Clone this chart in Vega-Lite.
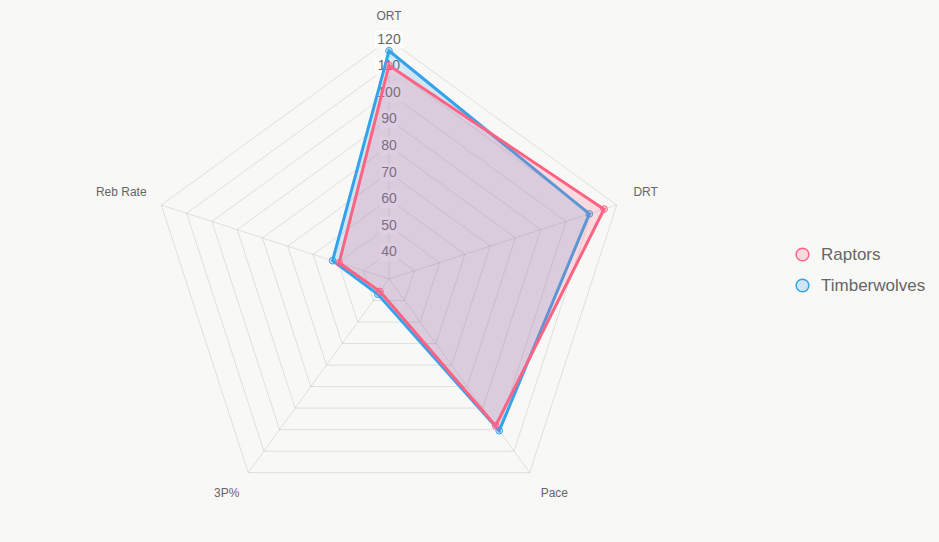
{
  "$schema": "https://vega.github.io/schema/vega-lite/v6.json",
  "width": 939,
  "height": 542,
  "autosize": {"type": "none"},
  "padding": 0,
  "background": "#f8f8f6",
  "config": {
    "view": {"stroke": null},
    "font": "Liberation Sans",
    "legend": {
      "orient": "none",
      "legendX": 794,
      "legendY": 246,
      "title": null,
      "symbolType": "circle",
      "symbolSize": 160,
      "symbolStrokeWidth": 1.5,
      "labelFont": "Liberation Sans",
      "labelFontSize": 17,
      "labelColor": "#666666",
      "labelOffset": 10,
      "rowPadding": 12
    }
  },
  "datasets": {
    "stats": [
      {"team": "Raptors", "axis": "ORT", "idx": 0, "value": 110.3},
      {"team": "Raptors", "axis": "DRT", "idx": 1, "value": 115.0},
      {"team": "Raptors", "axis": "Pace", "idx": 2, "value": 98.2},
      {"team": "Raptors", "axis": "3P%", "idx": 3, "value": 35.8},
      {"team": "Raptors", "axis": "Reb Rate", "idx": 4, "value": 49.7},
      {"team": "Timberwolves", "axis": "ORT", "idx": 0, "value": 115.8},
      {"team": "Timberwolves", "axis": "DRT", "idx": 1, "value": 109.2},
      {"team": "Timberwolves", "axis": "Pace", "idx": 2, "value": 100.5},
      {"team": "Timberwolves", "axis": "3P%", "idx": 3, "value": 37.1},
      {"team": "Timberwolves", "axis": "Reb Rate", "idx": 4, "value": 52.3}
    ],
    "axes": [
      {"axis": "ORT", "idx": 0},
      {"axis": "DRT", "idx": 1},
      {"axis": "Pace", "idx": 2},
      {"axis": "3P%", "idx": 3},
      {"axis": "Reb Rate", "idx": 4}
    ],
    "ticks": [
      {"tick": 40}, {"tick": 50}, {"tick": 60}, {"tick": 70}, {"tick": 80},
      {"tick": 90}, {"tick": 100}, {"tick": 110}, {"tick": 120}
    ],
    "grid": [
      {"ring": 40, "idx": 0}, {"ring": 40, "idx": 1}, {"ring": 40, "idx": 2}, {"ring": 40, "idx": 3}, {"ring": 40, "idx": 4},
      {"ring": 50, "idx": 0}, {"ring": 50, "idx": 1}, {"ring": 50, "idx": 2}, {"ring": 50, "idx": 3}, {"ring": 50, "idx": 4},
      {"ring": 60, "idx": 0}, {"ring": 60, "idx": 1}, {"ring": 60, "idx": 2}, {"ring": 60, "idx": 3}, {"ring": 60, "idx": 4},
      {"ring": 70, "idx": 0}, {"ring": 70, "idx": 1}, {"ring": 70, "idx": 2}, {"ring": 70, "idx": 3}, {"ring": 70, "idx": 4},
      {"ring": 80, "idx": 0}, {"ring": 80, "idx": 1}, {"ring": 80, "idx": 2}, {"ring": 80, "idx": 3}, {"ring": 80, "idx": 4},
      {"ring": 90, "idx": 0}, {"ring": 90, "idx": 1}, {"ring": 90, "idx": 2}, {"ring": 90, "idx": 3}, {"ring": 90, "idx": 4},
      {"ring": 100, "idx": 0}, {"ring": 100, "idx": 1}, {"ring": 100, "idx": 2}, {"ring": 100, "idx": 3}, {"ring": 100, "idx": 4},
      {"ring": 110, "idx": 0}, {"ring": 110, "idx": 1}, {"ring": 110, "idx": 2}, {"ring": 110, "idx": 3}, {"ring": 110, "idx": 4},
      {"ring": 120, "idx": 0}, {"ring": 120, "idx": 1}, {"ring": 120, "idx": 2}, {"ring": 120, "idx": 3}, {"ring": 120, "idx": 4}
    ]
  },
  "layer": [
    {
      "data": {"name": "grid"},
      "transform": [
        {"calculate": "(datum.ring - 30) * sin(datum.idx * 2 * PI / 5)", "as": "px"},
        {"calculate": "(datum.ring - 30) * cos(datum.idx * 2 * PI / 5)", "as": "py"}
      ],
      "mark": {"type": "line", "interpolate": "linear-closed", "stroke": "rgba(0,0,0,0.1)", "strokeWidth": 1},
      "encoding": {
        "x": {"field": "px", "type": "quantitative", "axis": null, "scale": {"domain": [-146.24, 206.77], "nice": false, "zero": false}},
        "y": {"field": "py", "type": "quantitative", "axis": null, "scale": {"domain": [-98.87, 104.89], "nice": false, "zero": false}},
        "detail": {"field": "ring", "type": "nominal"},
        "order": {"field": "idx", "type": "quantitative"}
      }
    },
    {
      "data": {"name": "axes"},
      "transform": [
        {"calculate": "90 * sin(datum.idx * 2 * PI / 5)", "as": "px"},
        {"calculate": "90 * cos(datum.idx * 2 * PI / 5)", "as": "py"},
        {"calculate": "0", "as": "cx"}
      ],
      "mark": {"type": "rule", "stroke": "rgba(0,0,0,0.1)", "strokeWidth": 1},
      "encoding": {
        "x": {"field": "cx", "type": "quantitative", "axis": null, "scale": {"domain": [-146.24, 206.77], "nice": false, "zero": false}},
        "y": {"field": "cx", "type": "quantitative", "axis": null, "scale": {"domain": [-98.87, 104.89], "nice": false, "zero": false}},
        "x2": {"field": "px"},
        "y2": {"field": "py"}
      }
    },
    {
      "data": {"name": "axes"},
      "transform": [
        {"filter": "datum.idx == 0"},
        {"calculate": "97 * sin(datum.idx * 2 * PI / 5)", "as": "px"},
        {"calculate": "97 * cos(datum.idx * 2 * PI / 5)", "as": "py"}
      ],
      "mark": {"type": "text", "align": "center", "baseline": "bottom", "dy": 2, "fontSize": 12, "color": "#666666"},
      "encoding": {
        "x": {"field": "px", "type": "quantitative", "axis": null, "scale": {"domain": [-146.24, 206.77], "nice": false, "zero": false}},
        "y": {"field": "py", "type": "quantitative", "axis": null, "scale": {"domain": [-98.87, 104.89], "nice": false, "zero": false}},
        "text": {"field": "axis", "type": "nominal"}
      }
    },
    {
      "data": {"name": "axes"},
      "transform": [
        {"filter": "datum.idx == 1"},
        {"calculate": "97 * sin(datum.idx * 2 * PI / 5)", "as": "px"},
        {"calculate": "97 * cos(datum.idx * 2 * PI / 5)", "as": "py"}
      ],
      "mark": {"type": "text", "align": "left", "baseline": "bottom", "dx": -1, "fontSize": 12, "color": "#666666"},
      "encoding": {
        "x": {"field": "px", "type": "quantitative", "axis": null, "scale": {"domain": [-146.24, 206.77], "nice": false, "zero": false}},
        "y": {"field": "py", "type": "quantitative", "axis": null, "scale": {"domain": [-98.87, 104.89], "nice": false, "zero": false}},
        "text": {"field": "axis", "type": "nominal"}
      }
    },
    {
      "data": {"name": "axes"},
      "transform": [
        {"filter": "datum.idx == 2"},
        {"calculate": "97 * sin(datum.idx * 2 * PI / 5)", "as": "px"},
        {"calculate": "97 * cos(datum.idx * 2 * PI / 5)", "as": "py"}
      ],
      "mark": {"type": "text", "align": "left", "baseline": "top", "fontSize": 12, "color": "#666666"},
      "encoding": {
        "x": {"field": "px", "type": "quantitative", "axis": null, "scale": {"domain": [-146.24, 206.77], "nice": false, "zero": false}},
        "y": {"field": "py", "type": "quantitative", "axis": null, "scale": {"domain": [-98.87, 104.89], "nice": false, "zero": false}},
        "text": {"field": "axis", "type": "nominal"}
      }
    },
    {
      "data": {"name": "axes"},
      "transform": [
        {"filter": "datum.idx == 3"},
        {"calculate": "97 * sin(datum.idx * 2 * PI / 5)", "as": "px"},
        {"calculate": "97 * cos(datum.idx * 2 * PI / 5)", "as": "py"}
      ],
      "mark": {"type": "text", "align": "right", "baseline": "top", "dx": 2, "fontSize": 12, "color": "#666666"},
      "encoding": {
        "x": {"field": "px", "type": "quantitative", "axis": null, "scale": {"domain": [-146.24, 206.77], "nice": false, "zero": false}},
        "y": {"field": "py", "type": "quantitative", "axis": null, "scale": {"domain": [-98.87, 104.89], "nice": false, "zero": false}},
        "text": {"field": "axis", "type": "nominal"}
      }
    },
    {
      "data": {"name": "axes"},
      "transform": [
        {"filter": "datum.idx == 4"},
        {"calculate": "97 * sin(datum.idx * 2 * PI / 5)", "as": "px"},
        {"calculate": "97 * cos(datum.idx * 2 * PI / 5)", "as": "py"}
      ],
      "mark": {"type": "text", "align": "right", "baseline": "bottom", "dx": 3, "fontSize": 12, "color": "#666666"},
      "encoding": {
        "x": {"field": "px", "type": "quantitative", "axis": null, "scale": {"domain": [-146.24, 206.77], "nice": false, "zero": false}},
        "y": {"field": "py", "type": "quantitative", "axis": null, "scale": {"domain": [-98.87, 104.89], "nice": false, "zero": false}},
        "text": {"field": "axis", "type": "nominal"}
      }
    },
    {
      "data": {"name": "ticks"},
      "transform": [
        {"filter": "datum.tick < 100"},
        {"calculate": "datum.tick - 30", "as": "py"},
        {"calculate": "0", "as": "cx"}
      ],
      "mark": {"type": "point", "shape": "M-1,-0.95H1V0.95H-1Z", "size": 361, "filled": true, "fill": "#ffffff", "fillOpacity": 0.75, "strokeWidth": 0},
      "encoding": {
        "x": {"field": "cx", "type": "quantitative", "axis": null, "scale": {"domain": [-146.24, 206.77], "nice": false, "zero": false}},
        "y": {"field": "py", "type": "quantitative", "axis": null, "scale": {"domain": [-98.87, 104.89], "nice": false, "zero": false}}
      }
    },
    {
      "data": {"name": "ticks"},
      "transform": [
        {"filter": "datum.tick >= 100"},
        {"calculate": "datum.tick - 30", "as": "py"},
        {"calculate": "0", "as": "cx"}
      ],
      "mark": {"type": "point", "shape": "M-1,-0.643H1V0.643H-1Z", "size": 784, "filled": true, "fill": "#ffffff", "fillOpacity": 0.75, "strokeWidth": 0},
      "encoding": {
        "x": {"field": "cx", "type": "quantitative", "axis": null, "scale": {"domain": [-146.24, 206.77], "nice": false, "zero": false}},
        "y": {"field": "py", "type": "quantitative", "axis": null, "scale": {"domain": [-98.87, 104.89], "nice": false, "zero": false}}
      }
    },
    {
      "data": {"name": "ticks"},
      "transform": [
        {"calculate": "datum.tick - 30", "as": "py"},
        {"calculate": "0", "as": "cx"}
      ],
      "mark": {"type": "text", "align": "center", "baseline": "middle", "fontSize": 14, "color": "#666666"},
      "encoding": {
        "x": {"field": "cx", "type": "quantitative", "axis": null, "scale": {"domain": [-146.24, 206.77], "nice": false, "zero": false}},
        "y": {"field": "py", "type": "quantitative", "axis": null, "scale": {"domain": [-98.87, 104.89], "nice": false, "zero": false}},
        "text": {"field": "tick", "type": "quantitative"}
      }
    },
    {
      "data": {"name": "stats"},
      "transform": [
        {"filter": "datum.team == 'Timberwolves'"},
        {"calculate": "(datum.value - 30) * sin(datum.idx * 2 * PI / 5)", "as": "px"},
        {"calculate": "(datum.value - 30) * cos(datum.idx * 2 * PI / 5)", "as": "py"}
      ],
      "mark": {"type": "line", "interpolate": "linear-closed", "strokeWidth": 3, "strokeJoin": "miter"},
      "encoding": {
        "x": {"field": "px", "type": "quantitative", "axis": null, "scale": {"domain": [-146.24, 206.77], "nice": false, "zero": false}},
        "y": {"field": "py", "type": "quantitative", "axis": null, "scale": {"domain": [-98.87, 104.89], "nice": false, "zero": false}},
        "order": {"field": "idx", "type": "quantitative"},
        "stroke": {"field": "team", "type": "nominal", "scale": {"domain": ["Raptors", "Timberwolves"], "range": ["#ff6384", "#36a2eb"]}},
        "fill": {"field": "team", "type": "nominal", "scale": {"domain": ["Raptors", "Timberwolves"], "range": ["rgba(255,99,132,0.2)", "rgba(54,162,235,0.2)"]}}
      }
    },
    {
      "data": {"name": "stats"},
      "transform": [
        {"filter": "datum.team == 'Timberwolves'"},
        {"calculate": "(datum.value - 30) * sin(datum.idx * 2 * PI / 5)", "as": "px"},
        {"calculate": "(datum.value - 30) * cos(datum.idx * 2 * PI / 5)", "as": "py"}
      ],
      "mark": {"type": "point", "shape": "circle", "filled": true, "size": 45, "strokeWidth": 1, "opacity": 1},
      "encoding": {
        "x": {"field": "px", "type": "quantitative", "axis": null, "scale": {"domain": [-146.24, 206.77], "nice": false, "zero": false}},
        "y": {"field": "py", "type": "quantitative", "axis": null, "scale": {"domain": [-98.87, 104.89], "nice": false, "zero": false}},
        "stroke": {"field": "team", "type": "nominal", "scale": {"domain": ["Raptors", "Timberwolves"], "range": ["#ff6384", "#36a2eb"]}},
        "fill": {"field": "team", "type": "nominal", "scale": {"domain": ["Raptors", "Timberwolves"], "range": ["rgba(255,99,132,0.2)", "rgba(54,162,235,0.2)"]}}
      }
    },
    {
      "data": {"name": "stats"},
      "transform": [
        {"filter": "datum.team == 'Raptors'"},
        {"calculate": "(datum.value - 30) * sin(datum.idx * 2 * PI / 5)", "as": "px"},
        {"calculate": "(datum.value - 30) * cos(datum.idx * 2 * PI / 5)", "as": "py"}
      ],
      "mark": {"type": "line", "interpolate": "linear-closed", "strokeWidth": 3, "strokeJoin": "miter"},
      "encoding": {
        "x": {"field": "px", "type": "quantitative", "axis": null, "scale": {"domain": [-146.24, 206.77], "nice": false, "zero": false}},
        "y": {"field": "py", "type": "quantitative", "axis": null, "scale": {"domain": [-98.87, 104.89], "nice": false, "zero": false}},
        "order": {"field": "idx", "type": "quantitative"},
        "stroke": {"field": "team", "type": "nominal", "scale": {"domain": ["Raptors", "Timberwolves"], "range": ["#ff6384", "#36a2eb"]}},
        "fill": {"field": "team", "type": "nominal", "scale": {"domain": ["Raptors", "Timberwolves"], "range": ["rgba(255,99,132,0.2)", "rgba(54,162,235,0.2)"]}}
      }
    },
    {
      "data": {"name": "stats"},
      "transform": [
        {"filter": "datum.team == 'Raptors'"},
        {"calculate": "(datum.value - 30) * sin(datum.idx * 2 * PI / 5)", "as": "px"},
        {"calculate": "(datum.value - 30) * cos(datum.idx * 2 * PI / 5)", "as": "py"}
      ],
      "mark": {"type": "point", "shape": "circle", "filled": true, "size": 45, "strokeWidth": 1, "opacity": 1},
      "encoding": {
        "x": {"field": "px", "type": "quantitative", "axis": null, "scale": {"domain": [-146.24, 206.77], "nice": false, "zero": false}},
        "y": {"field": "py", "type": "quantitative", "axis": null, "scale": {"domain": [-98.87, 104.89], "nice": false, "zero": false}},
        "stroke": {"field": "team", "type": "nominal", "scale": {"domain": ["Raptors", "Timberwolves"], "range": ["#ff6384", "#36a2eb"]}},
        "fill": {"field": "team", "type": "nominal", "scale": {"domain": ["Raptors", "Timberwolves"], "range": ["rgba(255,99,132,0.2)", "rgba(54,162,235,0.2)"]}}
      }
    }
  ]
}
